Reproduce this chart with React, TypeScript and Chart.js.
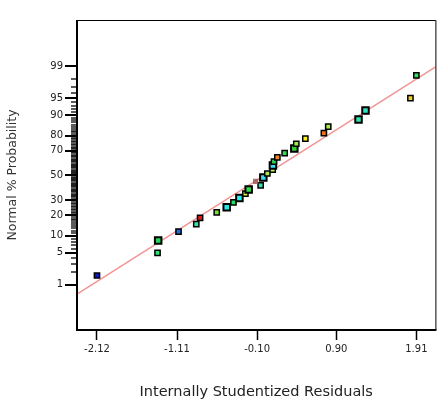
import React, { useEffect, useRef } from "react";
import { Chart, registerables } from "chart.js";

Chart.register(...registerables);

// Internally studentized residuals (sorted by rank)
const residuals = [
  -2.12, -1.356, -1.348, -1.091, -0.867, -0.819, -0.609, -0.483, -0.398, -0.323,
  -0.247, -0.206, -0.055, -0.118, -0.021, 0.03, 0.097, 0.1, 0.113, 0.156,
  0.248, 0.37, 0.395, 0.509, 0.743, 0.798, 1.18, 1.268, 1.835, 1.91,
];
// Normal % probability of each point
const percents = [
  1.67, 5.0, 8.33, 11.67, 15.0, 18.33, 21.67, 25.0, 28.33, 31.67,
  35.0, 38.33, 41.67, 45.0, 48.33, 51.67, 55.0, 58.33, 61.67, 65.0,
  68.33, 71.67, 75.0, 78.33, 81.67, 85.0, 88.33, 91.67, 95.0, 98.33,
];
const pointColors = [
  "#1414c8", "#2ee27a", "#22d65a", "#1a6ee6", "#36e6a0", "#e01818", "#78e628", "#28e6e6", "#28d868", "#28f0f0",
  "#c8f050", "#30dc48", "#30e0b4", "rgba(150,90,90,0.85)", "#38dcf0", "#a8e848", "#c0f060", "#40dcf0", "#30d058", "#f08828",
  "#30e048", "#30d038", "#98f040", "#f8f020", "#f07010", "#a8f048", "#30e0b0", "#30e0c4", "#f0d028", "#30e060",
];
const bigPoint = [
  0, 0, 1, 0, 0, 0, 0, 1, 0, 1,
  0, 1, 0, 0, 1, 0, 0, 1, 0, 0,
  0, 1, 0, 0, 0, 0, 1, 1, 0, 0,
];
const noBorder = [
  0, 0, 0, 0, 0, 0, 0, 0, 0, 0,
  0, 0, 0, 1, 0, 0, 0, 0, 0, 0,
  0, 0, 0, 0, 0, 0, 0, 0, 0, 0,
];

// Fitted normal line (residual, %)
const lineX = [-2.5, 2.3];
const linePct = [0.39, 99.32];

const xTicks = [-2.12, -1.11, -0.1, 0.9, 1.91];
const xTickLabels = ["-2.12", "-1.11", "-0.10", "0.90", "1.91"];
const yMajor = [1, 5, 10, 20, 30, 50, 70, 80, 90, 95, 99];
const yMinor = Array.from({ length: 99 }, (_, i) => i + 1);

function probit(p: number): number {
  const a = [-3.969683028665376e1, 2.209460984245205e2, -2.759285104469687e2, 1.38357751867269e2, -3.066479806614716e1, 2.506628277459239];
  const b = [-5.447609879822406e1, 1.615858368580409e2, -1.556989798598866e2, 6.680131188771972e1, -1.328068155288572e1];
  const c = [-7.784894002430293e-3, -3.223964580411365e-1, -2.400758277161838, -2.549732539343734, 4.374664141464968, 2.938163982698783];
  const d = [7.784695709041462e-3, 3.224671290700398e-1, 2.445134137142996, 3.754408661907416];
  const pl = 0.02425;
  const ph = 1 - pl;
  let q: number, r: number;
  if (p < pl) {
    q = Math.sqrt(-2 * Math.log(p));
    return (((((c[0] * q + c[1]) * q + c[2]) * q + c[3]) * q + c[4]) * q + c[5]) / ((((d[0] * q + d[1]) * q + d[2]) * q + d[3]) * q + 1);
  }
  if (p <= ph) {
    q = p - 0.5;
    r = q * q;
    return ((((((a[0] * r + a[1]) * r + a[2]) * r + a[3]) * r + a[4]) * r + a[5]) * q) / (((((b[0] * r + b[1]) * r + b[2]) * r + b[3]) * r + b[4]) * r + 1);
  }
  q = Math.sqrt(-2 * Math.log(1 - p));
  return -(((((c[0] * q + c[1]) * q + c[2]) * q + c[3]) * q + c[4]) * q + c[5]) / ((((d[0] * q + d[1]) * q + d[2]) * q + d[3]) * q + 1);
}

const framePlugin = {
  id: "frame",
  afterDraw(chart: any) {
    const { ctx, chartArea } = chart;
    const { left, right, top, bottom } = chartArea;
    const y = chart.scales.y;
    ctx.save();
    ctx.strokeStyle = "#000";
    // y tick marks
    yMinor.forEach((p) => {
      const major = yMajor.includes(p);
      const yy = Math.round(y.getPixelForValue(probit(p / 100)));
      ctx.lineWidth = major ? 2 : 1.3;
      ctx.beginPath();
      ctx.moveTo(left - (major ? 12 : 6), yy);
      ctx.lineTo(left, yy);
      ctx.stroke();
    });
    // frame
    ctx.lineWidth = 1;
    ctx.beginPath();
    ctx.moveTo(left, top + 0.5);
    ctx.lineTo(right + 0.5, top + 0.5);
    ctx.lineTo(right + 0.5, bottom);
    ctx.stroke();
    ctx.lineWidth = 2;
    ctx.beginPath();
    ctx.moveTo(left, top);
    ctx.lineTo(left, bottom);
    ctx.lineTo(right + 1, bottom);
    ctx.stroke();
    ctx.restore();
  },
};

export default function App() {
  const ref = useRef<HTMLCanvasElement>(null);
  useEffect(() => {
    if (!ref.current) return;
    const pts = residuals.map((x, i) => ({ x, y: probit(percents[i] / 100) }));
    const linePts = lineX.map((x, i) => ({ x, y: probit(linePct[i] / 100) }));
    const chart = new Chart(ref.current, {
      type: "scatter",
      data: {
        datasets: [
          {
            label: "Residuals",
            data: pts,
            pointStyle: "rect",
            pointRadius: bigPoint.map((b) => (b ? 4.6 : 3.7)),
            pointBorderWidth: bigPoint.map((b, i) => (noBorder[i] ? 0 : b ? 2 : 1.5)),
            pointBackgroundColor: pointColors,
            pointBorderColor: "#000",
          } as any,
          {
            type: "line",
            label: "Normal line",
            data: linePts,
            borderColor: "#f29494",
            borderWidth: 1.6,
            pointRadius: 0,
            showLine: true,
            fill: false,
          } as any,
        ],
      },
      options: {
        animation: false,
        responsive: false,
        events: [],
        layout: { padding: { left: 0, top: 5, right: 6, bottom: 0 } },
        plugins: { legend: { display: false }, tooltip: { enabled: false } },
        scales: {
          x: {
            type: "linear",
            min: -2.372,
            max: 2.15,
            afterFit: (s: any) => {
              s.height = 72;
            },
            afterBuildTicks: (s: any) => {
              s.ticks = xTicks.map((v) => ({ value: v }));
            },
            grid: { drawOnChartArea: false, drawTicks: true, tickLength: 10, tickColor: "#000", tickWidth: 1.5 },
            border: { display: false },
            ticks: {
              padding: 3,
              color: "#222",
              font: { family: "DejaVu Sans", size: 10 },
              callback: (_v: any, i: number) => xTickLabels[i],
              maxRotation: 0,
              autoSkip: false,
            },
            title: {
              display: true,
              text: "Internally Studentized Residuals",
              color: "#222",
              font: { family: "DejaVu Sans", size: 14.5, weight: "normal" },
              padding: { top: 0, bottom: 1 },
            },
          },
          y: {
            type: "linear",
            min: -3.286,
            max: 3.306,
            afterFit: (s: any) => {
              s.width = 77;
            },
            afterBuildTicks: (s: any) => {
              s.ticks = yMajor.map((p) => ({ value: probit(p / 100) }));
            },
            grid: { display: false, drawTicks: false },
            border: { display: false },
            ticks: {
              padding: 14,
              color: "#222",
              font: { family: "DejaVu Sans", size: 10 },
              callback: (_v: any, i: number) => String(yMajor[i]),
              autoSkip: false,
            },
            title: {
              display: true,
              text: "Normal % Probability",
              color: "#333",
              font: { family: "DejaVu Sans", size: 12.5, weight: "normal" },
              padding: { top: 5, bottom: 0 },
            },
          },
        },
      },
      plugins: [framePlugin],
    });
    return () => chart.destroy();
  }, []);
  return (
    <div style={{ position: "fixed", left: 0, top: 0, width: 442, height: 402, background: "#fff" }}>
      <canvas ref={ref} width={442} height={402} style={{ display: "block" }} />
    </div>
  );
}
